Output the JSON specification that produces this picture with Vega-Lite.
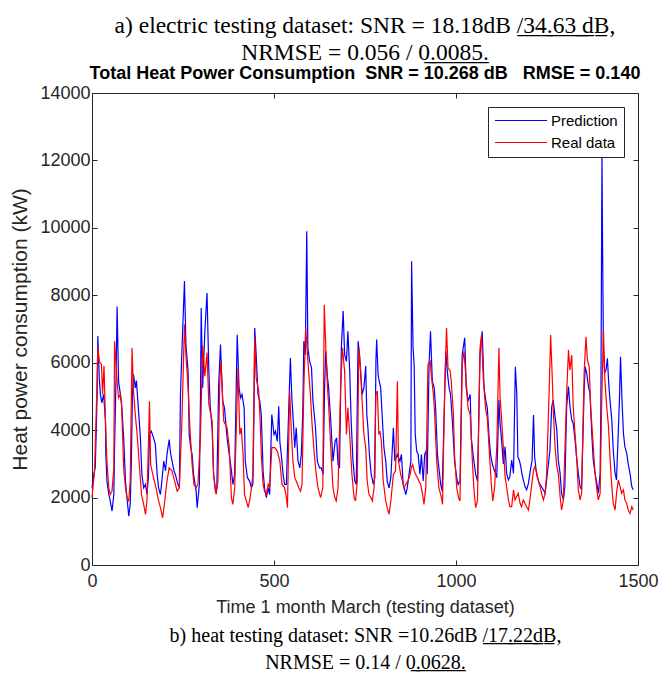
{
  "$schema": "https://vega.github.io/schema/vega-lite/v6.json",
  "width": 546,
  "height": 472,
  "autosize": {"type": "none"},
  "padding": {"left": 92, "top": 93, "right": 34, "bottom": 119},
  "background": "white",
  "config": {
    "view": {"stroke": "#262626", "strokeWidth": 1},
    "font": "Liberation Sans"
  },
  "title": {
    "text": [
      "a) electric testing dataset: SNR = 18.18dB /\u03323\u03324\u0332.\u03326\u03323\u0332 \u0332d\u0332B\u0332,",
      "NRMSE = 0.056 / 0\u0332.\u03320\u03320\u03328\u03325\u0332."
    ],
    "subtitle": "Total Heat Power Consumption\u00a0\u00a0SNR = 10.268 dB\u00a0\u00a0\u00a0RMSE = 0.140",
    "font": "Liberation Serif",
    "fontSize": 23.5,
    "fontWeight": "normal",
    "color": "black",
    "lineHeight": 27,
    "subtitleFont": "Liberation Sans",
    "subtitleFontSize": 18,
    "subtitleFontWeight": "bold",
    "subtitleColor": "black",
    "subtitlePadding": 1,
    "offset": 1,
    "anchor": "middle",
    "frame": "group"
  },
  "datasets": {
    "prediction": [
      {"t":0,"kW":2290},{"t":5,"kW":2690},{"t":9,"kW":2900},{"t":14,"kW":5000},{"t":16,"kW":6790},{"t":20,"kW":5550},{"t":23,"kW":5060},{"t":27,"kW":4810},{"t":32,"kW":5060},{"t":37,"kW":4270},{"t":38,"kW":3280},{"t":41,"kW":2490},{"t":46,"kW":2100},{"t":50,"kW":1900},{"t":55,"kW":1600},{"t":60,"kW":2090},{"t":62,"kW":3500},{"t":66,"kW":5500},{"t":69,"kW":7670},{"t":73,"kW":5450},{"t":78,"kW":5060},{"t":82,"kW":4660},{"t":87,"kW":3770},{"t":92,"kW":2490},{"t":96,"kW":2000},{"t":101,"kW":1450},{"t":105,"kW":1800},{"t":108,"kW":3000},{"t":111,"kW":5000},{"t":114,"kW":5650},{"t":119,"kW":5250},{"t":122,"kW":5470},{"t":126,"kW":4860},{"t":133,"kW":3770},{"t":137,"kW":2690},{"t":142,"kW":2290},{"t":147,"kW":2390},{"t":151,"kW":2090},{"t":155,"kW":2600},{"t":158,"kW":3900},{"t":163,"kW":3970},{"t":169,"kW":3770},{"t":174,"kW":3580},{"t":179,"kW":2690},{"t":183,"kW":2290},{"t":188,"kW":2090},{"t":192,"kW":2500},{"t":197,"kW":3080},{"t":202,"kW":2800},{"t":206,"kW":3280},{"t":212,"kW":3720},{"t":216,"kW":3300},{"t":220,"kW":3080},{"t":225,"kW":2800},{"t":229,"kW":2690},{"t":236,"kW":2390},{"t":240,"kW":2290},{"t":243,"kW":5060},{"t":247,"kW":6340},{"t":254,"kW":8420},{"t":258,"kW":6540},{"t":264,"kW":5750},{"t":267,"kW":3870},{"t":271,"kW":3500},{"t":275,"kW":3280},{"t":279,"kW":2690},{"t":286,"kW":2190},{"t":289,"kW":1700},{"t":295,"kW":2390},{"t":298,"kW":5000},{"t":300,"kW":7620},{"t":304,"kW":5260},{"t":310,"kW":6930},{"t":316,"kW":8070},{"t":321,"kW":5750},{"t":325,"kW":4660},{"t":330,"kW":4070},{"t":334,"kW":2690},{"t":339,"kW":2190},{"t":343,"kW":2290},{"t":348,"kW":5350},{"t":353,"kW":6540},{"t":359,"kW":4860},{"t":364,"kW":4660},{"t":371,"kW":3770},{"t":377,"kW":3280},{"t":383,"kW":2800},{"t":387,"kW":2390},{"t":392,"kW":2690},{"t":397,"kW":5750},{"t":399,"kW":6830},{"t":404,"kW":5260},{"t":408,"kW":4960},{"t":412,"kW":5060},{"t":418,"kW":4660},{"t":421,"kW":3080},{"t":427,"kW":2590},{"t":433,"kW":2490},{"t":438,"kW":2290},{"t":442,"kW":2390},{"t":445,"kW":4500},{"t":447,"kW":7030},{"t":451,"kW":6240},{"t":456,"kW":5060},{"t":461,"kW":4860},{"t":465,"kW":4460},{"t":470,"kW":2790},{"t":474,"kW":2290},{"t":479,"kW":2000},{"t":484,"kW":2290},{"t":488,"kW":2090},{"t":494,"kW":4460},{"t":500,"kW":3870},{"t":504,"kW":3970},{"t":509,"kW":3670},{"t":513,"kW":4710},{"t":516,"kW":3670},{"t":520,"kW":3280},{"t":525,"kW":2690},{"t":529,"kW":2390},{"t":534,"kW":2390},{"t":540,"kW":4460},{"t":545,"kW":6140},{"t":549,"kW":4960},{"t":553,"kW":4270},{"t":557,"kW":3480},{"t":561,"kW":4070},{"t":566,"kW":3080},{"t":571,"kW":2880},{"t":575,"kW":3280},{"t":579,"kW":4500},{"t":582,"kW":6640},{"t":586,"kW":6240},{"t":590,"kW":9900},{"t":593,"kW":6440},{"t":598,"kW":6040},{"t":603,"kW":5850},{"t":607,"kW":4860},{"t":614,"kW":4070},{"t":619,"kW":3080},{"t":625,"kW":2880},{"t":630,"kW":2880},{"t":635,"kW":2690},{"t":639,"kW":5260},{"t":642,"kW":6340},{"t":647,"kW":5550},{"t":650,"kW":5260},{"t":656,"kW":4270},{"t":662,"kW":3080},{"t":668,"kW":3670},{"t":672,"kW":3770},{"t":676,"kW":2980},{"t":680,"kW":2880},{"t":685,"kW":6440},{"t":690,"kW":7530},{"t":694,"kW":6240},{"t":699,"kW":6040},{"t":703,"kW":6930},{"t":708,"kW":5750},{"t":712,"kW":4270},{"t":717,"kW":3080},{"t":722,"kW":2490},{"t":726,"kW":2390},{"t":731,"kW":6640},{"t":735,"kW":6240},{"t":742,"kW":5060},{"t":747,"kW":5260},{"t":752,"kW":5900},{"t":755,"kW":4460},{"t":758,"kW":4070},{"t":762,"kW":3280},{"t":767,"kW":2690},{"t":773,"kW":2390},{"t":777,"kW":2590},{"t":780,"kW":6050},{"t":782,"kW":6690},{"t":786,"kW":5650},{"t":789,"kW":5450},{"t":793,"kW":5260},{"t":798,"kW":4270},{"t":802,"kW":3480},{"t":807,"kW":3080},{"t":811,"kW":2490},{"t":816,"kW":2290},{"t":821,"kW":2590},{"t":828,"kW":4070},{"t":832,"kW":3080},{"t":839,"kW":3280},{"t":846,"kW":3080},{"t":850,"kW":3280},{"t":855,"kW":2390},{"t":862,"kW":2090},{"t":866,"kW":2290},{"t":871,"kW":2690},{"t":876,"kW":3080},{"t":878,"kW":9010},{"t":882,"kW":6440},{"t":885,"kW":5950},{"t":888,"kW":3870},{"t":892,"kW":3380},{"t":896,"kW":3280},{"t":901,"kW":2690},{"t":905,"kW":3280},{"t":910,"kW":2490},{"t":914,"kW":3280},{"t":918,"kW":3380},{"t":921,"kW":2690},{"t":926,"kW":5950},{"t":930,"kW":6930},{"t":935,"kW":5450},{"t":940,"kW":5260},{"t":944,"kW":4660},{"t":949,"kW":3280},{"t":953,"kW":2880},{"t":958,"kW":2390},{"t":962,"kW":2190},{"t":967,"kW":4270},{"t":972,"kW":6340},{"t":976,"kW":5750},{"t":981,"kW":5260},{"t":985,"kW":5060},{"t":990,"kW":4270},{"t":996,"kW":3080},{"t":1002,"kW":2590},{"t":1006,"kW":2390},{"t":1011,"kW":2490},{"t":1017,"kW":6240},{"t":1024,"kW":6740},{"t":1028,"kW":5260},{"t":1033,"kW":4860},{"t":1039,"kW":5060},{"t":1042,"kW":3770},{"t":1048,"kW":3180},{"t":1054,"kW":2690},{"t":1059,"kW":2490},{"t":1066,"kW":6240},{"t":1072,"kW":6930},{"t":1077,"kW":5260},{"t":1082,"kW":4860},{"t":1086,"kW":4660},{"t":1091,"kW":3770},{"t":1095,"kW":3280},{"t":1100,"kW":2980},{"t":1106,"kW":2790},{"t":1112,"kW":2590},{"t":1118,"kW":4900},{"t":1121,"kW":4200},{"t":1126,"kW":3600},{"t":1130,"kW":3000},{"t":1135,"kW":3510},{"t":1139,"kW":2720},{"t":1144,"kW":2520},{"t":1148,"kW":2620},{"t":1153,"kW":3110},{"t":1158,"kW":2720},{"t":1163,"kW":5880},{"t":1167,"kW":5090},{"t":1170,"kW":3210},{"t":1174,"kW":3110},{"t":1178,"kW":2920},{"t":1181,"kW":2720},{"t":1185,"kW":2520},{"t":1190,"kW":2320},{"t":1194,"kW":2230},{"t":1199,"kW":2420},{"t":1203,"kW":2720},{"t":1209,"kW":3110},{"t":1213,"kW":4450},{"t":1216,"kW":3210},{"t":1220,"kW":2820},{"t":1223,"kW":2620},{"t":1229,"kW":2420},{"t":1235,"kW":2320},{"t":1240,"kW":2230},{"t":1245,"kW":2130},{"t":1249,"kW":2520},{"t":1258,"kW":3410},{"t":1263,"kW":4700},{"t":1267,"kW":4890},{"t":1272,"kW":4400},{"t":1277,"kW":4000},{"t":1281,"kW":3110},{"t":1286,"kW":2720},{"t":1290,"kW":2130},{"t":1295,"kW":1930},{"t":1299,"kW":2320},{"t":1304,"kW":4700},{"t":1309,"kW":5290},{"t":1313,"kW":4700},{"t":1318,"kW":4300},{"t":1322,"kW":4200},{"t":1327,"kW":3710},{"t":1332,"kW":3110},{"t":1336,"kW":2720},{"t":1341,"kW":2320},{"t":1345,"kW":2230},{"t":1352,"kW":5190},{"t":1355,"kW":5880},{"t":1359,"kW":5690},{"t":1364,"kW":5290},{"t":1368,"kW":5090},{"t":1373,"kW":3900},{"t":1377,"kW":3110},{"t":1382,"kW":2720},{"t":1387,"kW":2420},{"t":1391,"kW":2130},{"t":1396,"kW":2720},{"t":1398,"kW":4700},{"t":1401,"kW":12150},{"t":1403,"kW":9050},{"t":1405,"kW":6480},{"t":1408,"kW":5690},{"t":1412,"kW":5780},{"t":1416,"kW":6130},{"t":1419,"kW":5490},{"t":1423,"kW":4890},{"t":1428,"kW":4300},{"t":1432,"kW":3410},{"t":1437,"kW":2720},{"t":1441,"kW":2520},{"t":1449,"kW":4890},{"t":1452,"kW":6180},{"t":1456,"kW":4890},{"t":1460,"kW":3900},{"t":1464,"kW":3510},{"t":1469,"kW":3310},{"t":1473,"kW":3010},{"t":1478,"kW":2720},{"t":1483,"kW":2320},{"t":1487,"kW":2230}
    ],
    "real": [
      {"t":0,"kW":2000},{"t":7,"kW":2790},{"t":14,"kW":5450},{"t":16,"kW":6440},{"t":20,"kW":6040},{"t":26,"kW":5950},{"t":29,"kW":5060},{"t":33,"kW":5900},{"t":37,"kW":4270},{"t":41,"kW":3080},{"t":46,"kW":2290},{"t":50,"kW":2090},{"t":55,"kW":2190},{"t":60,"kW":2880},{"t":62,"kW":6640},{"t":69,"kW":5450},{"t":73,"kW":4960},{"t":78,"kW":5060},{"t":81,"kW":4860},{"t":87,"kW":2880},{"t":92,"kW":2290},{"t":96,"kW":2000},{"t":101,"kW":1900},{"t":105,"kW":2490},{"t":110,"kW":6440},{"t":114,"kW":5160},{"t":119,"kW":4460},{"t":124,"kW":3870},{"t":128,"kW":3280},{"t":136,"kW":2090},{"t":142,"kW":1800},{"t":147,"kW":1500},{"t":151,"kW":1900},{"t":158,"kW":4860},{"t":161,"kW":2980},{"t":169,"kW":2590},{"t":176,"kW":2290},{"t":183,"kW":1900},{"t":188,"kW":1700},{"t":194,"kW":1400},{"t":200,"kW":1900},{"t":206,"kW":2490},{"t":212,"kW":2880},{"t":220,"kW":2790},{"t":227,"kW":2490},{"t":234,"kW":2190},{"t":240,"kW":2290},{"t":247,"kW":4270},{"t":254,"kW":7130},{"t":258,"kW":6240},{"t":264,"kW":5250},{"t":269,"kW":4070},{"t":275,"kW":2980},{"t":280,"kW":2390},{"t":286,"kW":2290},{"t":291,"kW":2390},{"t":298,"kW":3800},{"t":304,"kW":6500},{"t":310,"kW":5600},{"t":316,"kW":6300},{"t":321,"kW":4760},{"t":330,"kW":4270},{"t":334,"kW":2690},{"t":341,"kW":2090},{"t":346,"kW":2490},{"t":351,"kW":5450},{"t":354,"kW":6040},{"t":362,"kW":4270},{"t":371,"kW":4070},{"t":377,"kW":3500},{"t":383,"kW":2000},{"t":387,"kW":1800},{"t":392,"kW":2290},{"t":397,"kW":4270},{"t":401,"kW":5850},{"t":406,"kW":3870},{"t":410,"kW":4070},{"t":415,"kW":3280},{"t":419,"kW":2090},{"t":424,"kW":1900},{"t":429,"kW":1700},{"t":433,"kW":1900},{"t":438,"kW":2290},{"t":442,"kW":2690},{"t":447,"kW":6740},{"t":451,"kW":5550},{"t":458,"kW":5160},{"t":462,"kW":4270},{"t":465,"kW":3280},{"t":470,"kW":2390},{"t":474,"kW":2190},{"t":479,"kW":2090},{"t":484,"kW":2390},{"t":488,"kW":2290},{"t":494,"kW":3480},{"t":502,"kW":3480},{"t":509,"kW":3380},{"t":516,"kW":3080},{"t":522,"kW":2390},{"t":529,"kW":2290},{"t":534,"kW":2000},{"t":537,"kW":1700},{"t":543,"kW":5160},{"t":548,"kW":3870},{"t":552,"kW":3080},{"t":557,"kW":2590},{"t":561,"kW":2490},{"t":568,"kW":2290},{"t":573,"kW":2190},{"t":577,"kW":2390},{"t":582,"kW":5260},{"t":587,"kW":7030},{"t":592,"kW":6240},{"t":595,"kW":5750},{"t":600,"kW":5060},{"t":604,"kW":4270},{"t":610,"kW":3380},{"t":616,"kW":2690},{"t":621,"kW":2290},{"t":628,"kW":2000},{"t":634,"kW":2290},{"t":638,"kW":7720},{"t":643,"kW":6240},{"t":647,"kW":5260},{"t":650,"kW":4760},{"t":656,"kW":3480},{"t":662,"kW":2290},{"t":667,"kW":2000},{"t":671,"kW":1900},{"t":676,"kW":2290},{"t":683,"kW":5260},{"t":688,"kW":6440},{"t":694,"kW":5750},{"t":699,"kW":3870},{"t":703,"kW":4660},{"t":708,"kW":3870},{"t":714,"kW":2690},{"t":720,"kW":2000},{"t":724,"kW":1900},{"t":729,"kW":2490},{"t":733,"kW":6440},{"t":738,"kW":5750},{"t":745,"kW":4270},{"t":747,"kW":3870},{"t":752,"kW":3480},{"t":756,"kW":2490},{"t":761,"kW":2090},{"t":766,"kW":2000},{"t":770,"kW":1900},{"t":775,"kW":2290},{"t":780,"kW":5060},{"t":784,"kW":5160},{"t":788,"kW":3870},{"t":791,"kW":3970},{"t":795,"kW":3670},{"t":800,"kW":2490},{"t":807,"kW":1900},{"t":811,"kW":1700},{"t":816,"kW":1500},{"t":821,"kW":1900},{"t":828,"kW":2690},{"t":834,"kW":2790},{"t":839,"kW":5450},{"t":842,"kW":3080},{"t":848,"kW":2690},{"t":853,"kW":2490},{"t":857,"kW":2290},{"t":862,"kW":2390},{"t":868,"kW":2490},{"t":874,"kW":2690},{"t":877,"kW":2880},{"t":881,"kW":2980},{"t":885,"kW":2790},{"t":889,"kW":2690},{"t":894,"kW":2590},{"t":898,"kW":2490},{"t":903,"kW":2390},{"t":908,"kW":2100},{"t":912,"kW":1800},{"t":917,"kW":2290},{"t":923,"kW":5950},{"t":929,"kW":6040},{"t":932,"kW":5650},{"t":938,"kW":5060},{"t":941,"kW":4560},{"t":947,"kW":3080},{"t":953,"kW":2290},{"t":960,"kW":2000},{"t":963,"kW":1800},{"t":969,"kW":5260},{"t":974,"kW":7030},{"t":978,"kW":5850},{"t":984,"kW":5750},{"t":987,"kW":5450},{"t":993,"kW":4470},{"t":996,"kW":3280},{"t":1002,"kW":2290},{"t":1007,"kW":2000},{"t":1011,"kW":1900},{"t":1017,"kW":5950},{"t":1022,"kW":6340},{"t":1028,"kW":5450},{"t":1033,"kW":4660},{"t":1039,"kW":4460},{"t":1045,"kW":3080},{"t":1049,"kW":2290},{"t":1054,"kW":1700},{"t":1059,"kW":1900},{"t":1066,"kW":6440},{"t":1070,"kW":6830},{"t":1075,"kW":5550},{"t":1081,"kW":4660},{"t":1086,"kW":4370},{"t":1092,"kW":3280},{"t":1097,"kW":2390},{"t":1101,"kW":1900},{"t":1106,"kW":2290},{"t":1112,"kW":3500},{"t":1118,"kW":6440},{"t":1121,"kW":5000},{"t":1126,"kW":4200},{"t":1130,"kW":3500},{"t":1135,"kW":2600},{"t":1139,"kW":2320},{"t":1144,"kW":1930},{"t":1148,"kW":1730},{"t":1153,"kW":1730},{"t":1158,"kW":2230},{"t":1162,"kW":1930},{"t":1171,"kW":2130},{"t":1176,"kW":1830},{"t":1180,"kW":1730},{"t":1185,"kW":1930},{"t":1194,"kW":1730},{"t":1199,"kW":1630},{"t":1203,"kW":1930},{"t":1213,"kW":2820},{"t":1217,"kW":2920},{"t":1222,"kW":2720},{"t":1226,"kW":2520},{"t":1231,"kW":2320},{"t":1235,"kW":2130},{"t":1240,"kW":1930},{"t":1245,"kW":2130},{"t":1249,"kW":2720},{"t":1256,"kW":5190},{"t":1260,"kW":6820},{"t":1264,"kW":5690},{"t":1267,"kW":4700},{"t":1272,"kW":3510},{"t":1277,"kW":2920},{"t":1281,"kW":2720},{"t":1286,"kW":2030},{"t":1290,"kW":1630},{"t":1295,"kW":1930},{"t":1304,"kW":5090},{"t":1309,"kW":6380},{"t":1313,"kW":5780},{"t":1318,"kW":6230},{"t":1322,"kW":4700},{"t":1327,"kW":3900},{"t":1332,"kW":3110},{"t":1336,"kW":2230},{"t":1341,"kW":1930},{"t":1345,"kW":2130},{"t":1352,"kW":5690},{"t":1357,"kW":6770},{"t":1361,"kW":6080},{"t":1366,"kW":5880},{"t":1370,"kW":4700},{"t":1376,"kW":3710},{"t":1382,"kW":2720},{"t":1387,"kW":2230},{"t":1391,"kW":1930},{"t":1396,"kW":2130},{"t":1400,"kW":4700},{"t":1405,"kW":6970},{"t":1409,"kW":5490},{"t":1414,"kW":4700},{"t":1419,"kW":4100},{"t":1423,"kW":3210},{"t":1428,"kW":2320},{"t":1432,"kW":1830},{"t":1437,"kW":1630},{"t":1441,"kW":2130},{"t":1446,"kW":2520},{"t":1451,"kW":2320},{"t":1455,"kW":2130},{"t":1460,"kW":2230},{"t":1464,"kW":1930},{"t":1469,"kW":1830},{"t":1473,"kW":1630},{"t":1478,"kW":1530},{"t":1483,"kW":1730},{"t":1487,"kW":1630}
    ]
  },
  "layer": [
    {
      "data": {"name": "prediction"},
      "mark": {"type": "line", "strokeWidth": 1.2},
      "encoding": {
        "x": {
          "field": "t", "type": "quantitative",
          "scale": {"domain": [0, 1500], "nice": false, "zero": false},
          "axis": {
            "orient": "bottom", "values": [0, 500, 1000, 1500], "format": "d",
            "title": "Time 1 month March (testing dataset)",
            "grid": false, "domain": false, "tickSize": -5, "tickColor": "#262626",
            "labelFont": "Liberation Sans", "labelFontSize": 18, "labelColor": "#262626",
            "labelPadding": 12, "labelFlush": false,
            "titleFont": "Liberation Sans", "titleFontSize": 18, "titleFontWeight": "normal",
            "titleColor": "#262626", "titlePadding": 8
          }
        },
        "y": {
          "field": "kW", "type": "quantitative",
          "scale": {"domain": [0, 14000], "nice": false},
          "axis": {
            "orient": "left", "values": [0, 2000, 4000, 6000, 8000, 10000, 12000, 14000], "format": "d",
            "title": "Heat power consumption (kW)",
            "grid": false, "domain": false, "tickSize": -5, "tickColor": "#262626",
            "labelFont": "Liberation Sans", "labelFontSize": 18, "labelColor": "#262626",
            "labelPadding": 7, "labelFlush": false,
            "titleFont": "Liberation Sans", "titleFontSize": 21, "titleFontWeight": "normal",
            "titleColor": "#262626", "titlePadding": 9
          }
        },
        "color": {
          "datum": "Prediction", "type": "nominal",
          "scale": {"domain": ["Prediction", "Real data"], "range": ["#0000ff", "#ff0000"]},
          "legend": {
            "orient": "top-right", "offset": 14, "title": null,
            "symbolType": "M-1,0H7", "symbolSize": 169, "symbolStrokeWidth": 1,
            "symbolFillColor": "transparent",
            "labelFont": "Liberation Sans", "labelFontSize": 15, "labelColor": "black",
            "strokeColor": "#262626", "fillColor": "white", "padding": 6,
            "rowPadding": 6, "labelOffset": 42
          }
        }
      }
    },
    {
      "data": {"name": "real"},
      "mark": {"type": "line", "strokeWidth": 1.2},
      "encoding": {
        "x": {
          "field": "t", "type": "quantitative",
          "axis": {
            "orient": "bottom",
            "title": [
              "b) heat testing dataset: SNR =10.26dB /\u03321\u03327\u0332.\u03322\u03322\u0332d\u0332B\u0332,",
              "NRMSE = 0.14 / 0\u0332.\u03320\u03326\u03322\u03328\u0332."
            ],
            "grid": false, "domain": false, "ticks": false, "labels": false,
            "titleFont": "Liberation Serif", "titleFontSize": 20, "titleFontWeight": "normal",
            "titleColor": "black", "titlePadding": 60, "titleLineHeight": 27
          }
        },
        "y": {
          "field": "kW", "type": "quantitative",
          "axis": {
            "orient": "right", "values": [0, 2000, 4000, 6000, 8000, 10000, 12000, 14000],
            "title": null, "labels": false, "grid": false, "domain": false,
            "tickSize": -5, "tickColor": "#262626"
          }
        },
        "color": {"datum": "Real data", "type": "nominal"}
      }
    },
    {
      "data": {"values": []},
      "mark": "rule",
      "encoding": {
        "x": {
          "field": "t", "type": "quantitative",
          "axis": {
            "orient": "top", "values": [0, 500, 1000, 1500],
            "title": null, "labels": false, "grid": false, "domain": false,
            "tickSize": -5, "tickColor": "#262626"
          }
        }
      }
    }
  ],
  "resolve": {"axis": {"x": "independent", "y": "independent"}}
}
